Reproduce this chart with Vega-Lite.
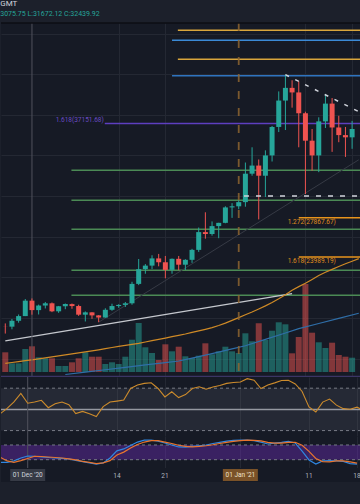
{
"$schema": "https://vega.github.io/schema/vega-lite/v6.json",
"background": "#1c202b",
"padding": {"left": 0, "top": 0, "right": 0, "bottom": 22},
"spacing": 0,
"bounds": "flush",
"title": {"text": "GMT", "subtitle": "3075.75 L:31672.12 C:32439.92", "anchor": "start", "frame": "bounds", "font": "Roboto", "fontSize": 8, "fontWeight": "normal", "color": "#d1d4dc", "subtitleFont": "Roboto", "subtitleFontSize": 7, "subtitleColor": "#26a69a", "subtitlePadding": 2, "offset": 5},
"config": {"view": {"stroke": null, "fill": "#161a25"}, "font": "Roboto"},
"datasets": {
"candles": [
{"date":"2020-11-27","o":17150,"h":17460,"l":16460,"c":17140,"v":19700},
{"date":"2020-11-28","o":17140,"h":17900,"l":16880,"c":17720,"v":8700},
{"date":"2020-11-29","o":17720,"h":18340,"l":17530,"c":18180,"v":8700},
{"date":"2020-11-30","o":18180,"h":19860,"l":18180,"c":19700,"v":23000},
{"date":"2020-12-01","o":19700,"h":19920,"l":18320,"c":18770,"v":25700},
{"date":"2020-12-02","o":18770,"h":19310,"l":18340,"c":19220,"v":14700},
{"date":"2020-12-03","o":19220,"h":19570,"l":18930,"c":19440,"v":13700},
{"date":"2020-12-04","o":19440,"h":19520,"l":18570,"c":18650,"v":13700},
{"date":"2020-12-05","o":18650,"h":19180,"l":18500,"c":19150,"v":6000},
{"date":"2020-12-06","o":19150,"h":19420,"l":18860,"c":19360,"v":6000},
{"date":"2020-12-07","o":19360,"h":19420,"l":18900,"c":19170,"v":9700},
{"date":"2020-12-08","o":19170,"h":19300,"l":18200,"c":18320,"v":13700},
{"date":"2020-12-09","o":18320,"h":18640,"l":17650,"c":18550,"v":19700},
{"date":"2020-12-10","o":18550,"h":18560,"l":17910,"c":18250,"v":15300},
{"date":"2020-12-11","o":18250,"h":18280,"l":17580,"c":18040,"v":15300},
{"date":"2020-12-12","o":18040,"h":18950,"l":18020,"c":18800,"v":8000},
{"date":"2020-12-13","o":18800,"h":19400,"l":18700,"c":19170,"v":9700},
{"date":"2020-12-14","o":19170,"h":19350,"l":19000,"c":19280,"v":8000},
{"date":"2020-12-15","o":19280,"h":19570,"l":19080,"c":19440,"v":15300},
{"date":"2020-12-16","o":19440,"h":21560,"l":19300,"c":21350,"v":32300},
{"date":"2020-12-17","o":21350,"h":23800,"l":21230,"c":22800,"v":49000},
{"date":"2020-12-18","o":22800,"h":23300,"l":22350,"c":23150,"v":24700},
{"date":"2020-12-19","o":23150,"h":24170,"l":22800,"c":23860,"v":19000},
{"date":"2020-12-20","o":23860,"h":24300,"l":23080,"c":23480,"v":12000},
{"date":"2020-12-21","o":23480,"h":24100,"l":21900,"c":22730,"v":27700},
{"date":"2020-12-22","o":22730,"h":23850,"l":22350,"c":23820,"v":20700},
{"date":"2020-12-23","o":23820,"h":24100,"l":22700,"c":23240,"v":25300},
{"date":"2020-12-24","o":23240,"h":23780,"l":22720,"c":23720,"v":15700},
{"date":"2020-12-25","o":23720,"h":24800,"l":23420,"c":24700,"v":14000},
{"date":"2020-12-26","o":24700,"h":26900,"l":24500,"c":26450,"v":16300},
{"date":"2020-12-27","o":26450,"h":28400,"l":25800,"c":26260,"v":28700},
{"date":"2020-12-28","o":26260,"h":27500,"l":26100,"c":27040,"v":17700},
{"date":"2020-12-29","o":27040,"h":27370,"l":25850,"c":27360,"v":20700},
{"date":"2020-12-30","o":27360,"h":28990,"l":27320,"c":28880,"v":25300},
{"date":"2020-12-31","o":28880,"h":29300,"l":27850,"c":28990,"v":20700},
{"date":"2021-01-01","o":28990,"h":29600,"l":28700,"c":29400,"v":19000},
{"date":"2021-01-02","o":29400,"h":33300,"l":28950,"c":32200,"v":38700},
{"date":"2021-01-03","o":32200,"h":34800,"l":32000,"c":33000,"v":30700},
{"date":"2021-01-04","o":33000,"h":33600,"l":27700,"c":32000,"v":48700},
{"date":"2021-01-05","o":32000,"h":34500,"l":29900,"c":34000,"v":32000},
{"date":"2021-01-06","o":34000,"h":36900,"l":33400,"c":36800,"v":41300},
{"date":"2021-01-07","o":36800,"h":40300,"l":36300,"c":39400,"v":49700},
{"date":"2021-01-08","o":39400,"h":41950,"l":36500,"c":40650,"v":47700},
{"date":"2021-01-09","o":40650,"h":41400,"l":38700,"c":40200,"v":18700},
{"date":"2021-01-10","o":40200,"h":41300,"l":34800,"c":38150,"v":35000},
{"date":"2021-01-11","o":38150,"h":38300,"l":30200,"c":35450,"v":88000},
{"date":"2021-01-12","o":35450,"h":36600,"l":32500,"c":34000,"v":39300},
{"date":"2021-01-13","o":34000,"h":37750,"l":32350,"c":37350,"v":29700},
{"date":"2021-01-14","o":37350,"h":40050,"l":36700,"c":39100,"v":24000},
{"date":"2021-01-15","o":39100,"h":39650,"l":34350,"c":36750,"v":29300},
{"date":"2021-01-16","o":36750,"h":37900,"l":35300,"c":36000,"v":17000},
{"date":"2021-01-17","o":36000,"h":36800,"l":33850,"c":35780,"v":15300},
{"date":"2021-01-18","o":35780,"h":37400,"l":34650,"c":36600,"v":14300}
],
"maOrange": [
{"date":"2020-11-27","price":13530},{"date":"2020-11-28","price":13610},{"date":"2020-11-29","price":13700},{"date":"2020-11-30","price":13790},
{"date":"2020-12-01","price":13870},{"date":"2020-12-02","price":13960},{"date":"2020-12-03","price":14060},{"date":"2020-12-04","price":14160},
{"date":"2020-12-05","price":14260},{"date":"2020-12-06","price":14360},{"date":"2020-12-07","price":14460},{"date":"2020-12-08","price":14560},
{"date":"2020-12-09","price":14660},{"date":"2020-12-10","price":14760},{"date":"2020-12-11","price":14860},{"date":"2020-12-12","price":14970},
{"date":"2020-12-13","price":15090},{"date":"2020-12-14","price":15200},{"date":"2020-12-15","price":15300},{"date":"2020-12-16","price":15400},
{"date":"2020-12-17","price":15500},{"date":"2020-12-18","price":15630},{"date":"2020-12-19","price":15760},{"date":"2020-12-20","price":15890},
{"date":"2020-12-21","price":16020},{"date":"2020-12-22","price":16160},{"date":"2020-12-23","price":16290},{"date":"2020-12-24","price":16420},
{"date":"2020-12-25","price":16570},{"date":"2020-12-26","price":16720},{"date":"2020-12-27","price":16880},{"date":"2020-12-28","price":17040},
{"date":"2020-12-29","price":17250},{"date":"2020-12-30","price":17490},{"date":"2020-12-31","price":17760},{"date":"2021-01-01","price":18030},
{"date":"2021-01-02","price":18310},{"date":"2021-01-03","price":18580},{"date":"2021-01-04","price":18880},{"date":"2021-01-05","price":19190},
{"date":"2021-01-06","price":19520},{"date":"2021-01-07","price":19880},{"date":"2021-01-08","price":20290},{"date":"2021-01-09","price":20730},
{"date":"2021-01-10","price":21080},{"date":"2021-01-11","price":21410},{"date":"2021-01-12","price":21790},{"date":"2021-01-13","price":22170},
{"date":"2021-01-14","price":22490},{"date":"2021-01-15","price":22780},{"date":"2021-01-16","price":23060},{"date":"2021-01-17","price":23330},
{"date":"2021-01-18","price":23580},{"date":"2021-01-19","price":23840}
],
"maBlue": [
{"date":"2020-12-06","price":12430},{"date":"2020-12-09","price":12670},{"date":"2020-12-12","price":12900},{"date":"2020-12-15","price":13130},
{"date":"2020-12-18","price":13370},{"date":"2020-12-21","price":13600},{"date":"2020-12-23","price":13760},{"date":"2020-12-25","price":14040},
{"date":"2020-12-28","price":14490},{"date":"2020-12-31","price":14950},{"date":"2021-01-02","price":15260},{"date":"2021-01-05","price":15890},
{"date":"2021-01-08","price":16520},{"date":"2021-01-10","price":16940},{"date":"2021-01-13","price":17450},{"date":"2021-01-16","price":17960},
{"date":"2021-01-19","price":18460}
],
"trend": [{"date":"2020-11-27","price":15740},{"date":"2021-01-09","price":20395}],
"diag": [{"date":"2020-12-11","price":17580},{"date":"2021-01-19","price":33570}],
"dashDiag": [{"date":"2021-01-08","price":41950},{"date":"2021-01-19","price":38310}],
"dashH": [{"start":"2021-01-01T19:00:00Z","price":30004}],
"cross": [{"date":"2020-12-01"}],
"marker": [{"date":"2021-01-01"}],
"levels": [
{"kind":"gold","start":"2020-12-22T21:00:00Z","price":46317},
{"kind":"blue","start":"2020-12-22T00:00:00Z","price":45333},
{"kind":"gold","start":"2020-12-22T21:00:00Z","price":43462},
{"kind":"blueThick","start":"2020-12-22T00:00:00Z","price":41847},
{"kind":"purple","start":"2020-12-11T22:00:00Z","price":37151.68},
{"kind":"green","start":"2020-12-06T22:00:00Z","price":32534},
{"kind":"green","start":"2020-12-06T22:00:00Z","price":29581},
{"kind":"green","start":"2020-12-06T22:00:00Z","price":26726},
{"kind":"green","start":"2020-12-06T22:00:00Z","price":22689},
{"kind":"green","start":"2020-12-06T22:00:00Z","price":20228},
{"kind":"fib","start":"2021-01-10T00:00:00Z","price":27867.67},
{"kind":"fib","start":"2021-01-10T00:00:00Z","price":23989.19}
],
"fibLabels": [
{"kind":"purple","start":"2020-12-11T22:00:00Z","price":37151.68,"label":"1.618(37151.68)"},
{"kind":"fib","start":"2021-01-10T00:00:00Z","price":27867.67,"label":"1.272(27867.67)"},
{"kind":"fib","start":"2021-01-10T00:00:00Z","price":23989.19,"label":"1.618(23989.19)"}
],
"rsi": [
{"date":"2020-11-27","rsi":45.9},{"date":"2020-11-28","rsi":51},{"date":"2020-11-29","rsi":57},{"date":"2020-11-30","rsi":65},
{"date":"2020-12-01","rsi":55.8},{"date":"2020-12-02","rsi":57},{"date":"2020-12-03","rsi":58.6},{"date":"2020-12-04","rsi":51.6},
{"date":"2020-12-05","rsi":55.4},{"date":"2020-12-06","rsi":57},{"date":"2020-12-07","rsi":54.5},{"date":"2020-12-08","rsi":46},
{"date":"2020-12-09","rsi":48.1},{"date":"2020-12-10","rsi":45.9},{"date":"2020-12-11","rsi":43.3},{"date":"2020-12-12","rsi":52.6},
{"date":"2020-12-13","rsi":56.9},{"date":"2020-12-14","rsi":57.8},{"date":"2020-12-15","rsi":58.8},{"date":"2020-12-16","rsi":69.7},
{"date":"2020-12-17","rsi":73},{"date":"2020-12-18","rsi":74.5},{"date":"2020-12-19","rsi":75.1},{"date":"2020-12-20","rsi":69.7},
{"date":"2020-12-21","rsi":61.8},{"date":"2020-12-22","rsi":66.6},{"date":"2020-12-23","rsi":61.1},{"date":"2020-12-24","rsi":64},
{"date":"2020-12-25","rsi":69.7},{"date":"2020-12-26","rsi":71.3},{"date":"2020-12-27","rsi":69},{"date":"2020-12-28","rsi":71.1},
{"date":"2020-12-29","rsi":72.6},{"date":"2020-12-30","rsi":74.5},{"date":"2020-12-31","rsi":75.4},{"date":"2021-01-01","rsi":75.9},
{"date":"2021-01-02","rsi":79},{"date":"2021-01-03","rsi":77.5},{"date":"2021-01-04","rsi":69.7},{"date":"2021-01-05","rsi":73},
{"date":"2021-01-06","rsi":75},{"date":"2021-01-07","rsi":77.3},{"date":"2021-01-08","rsi":77.5},{"date":"2021-01-09","rsi":74},
{"date":"2021-01-10","rsi":66.9},{"date":"2021-01-11","rsi":52.3},{"date":"2021-01-12","rsi":47.5},{"date":"2021-01-13","rsi":56.9},
{"date":"2021-01-14","rsi":59.7},{"date":"2021-01-15","rsi":54},{"date":"2021-01-16","rsi":50.7},{"date":"2021-01-17","rsi":50.2},
{"date":"2021-01-18","rsi":52.1},{"date":"2021-01-19","rsi":49}
],
"stoch": [
{"date":"2020-11-27","k":9,"d":30},{"date":"2020-11-28","k":9,"d":15},{"date":"2020-11-29","k":15,"d":9},{"date":"2020-11-30","k":27,"d":16},
{"date":"2020-12-01","k":35,"d":25},{"date":"2020-12-02","k":34,"d":34},{"date":"2020-12-03","k":31,"d":33},{"date":"2020-12-04","k":29,"d":31},
{"date":"2020-12-05","k":27,"d":29},{"date":"2020-12-06","k":25,"d":27},{"date":"2020-12-07","k":23,"d":23},{"date":"2020-12-08","k":17,"d":19},
{"date":"2020-12-09","k":12,"d":13},{"date":"2020-12-10","k":7,"d":9},{"date":"2020-12-11","k":2,"d":4},{"date":"2020-12-12","k":7,"d":7},
{"date":"2020-12-13","k":27,"d":16},{"date":"2020-12-14","k":56,"d":39},{"date":"2020-12-15","k":64,"d":51},{"date":"2020-12-16","k":78,"d":68},
{"date":"2020-12-17","k":92,"d":82},{"date":"2020-12-18","k":100,"d":92},{"date":"2020-12-19","k":100,"d":98},{"date":"2020-12-20","k":96,"d":98},
{"date":"2020-12-21","k":88,"d":92},{"date":"2020-12-22","k":80,"d":86},{"date":"2020-12-23","k":72,"d":79},{"date":"2020-12-24","k":71,"d":74},
{"date":"2020-12-25","k":74,"d":72},{"date":"2020-12-26","k":77,"d":74},{"date":"2020-12-27","k":80,"d":77},{"date":"2020-12-28","k":86,"d":81},
{"date":"2020-12-29","k":91,"d":86},{"date":"2020-12-30","k":96,"d":91},{"date":"2020-12-31","k":99,"d":95},{"date":"2021-01-01","k":100,"d":98},
{"date":"2021-01-02","k":100,"d":100},{"date":"2021-01-03","k":98,"d":99},{"date":"2021-01-04","k":92,"d":97},{"date":"2021-01-05","k":84,"d":91},
{"date":"2021-01-06","k":88,"d":88},{"date":"2021-01-07","k":91,"d":88},{"date":"2021-01-08","k":95,"d":91},{"date":"2021-01-09","k":88,"d":91},
{"date":"2021-01-10","k":55,"d":79},{"date":"2021-01-11","k":19,"d":54},{"date":"2021-01-12","k":2,"d":25},{"date":"2021-01-13","k":15,"d":12},
{"date":"2021-01-14","k":16,"d":11},{"date":"2021-01-15","k":15,"d":15},{"date":"2021-01-16","k":13,"d":15},{"date":"2021-01-17","k":4,"d":11},
{"date":"2021-01-18","k":2,"d":6}
],
"ticks": [{"date":"2020-12-14","label":"14"},{"date":"2020-12-21","label":"21"},{"date":"2021-01-11","label":"11"},{"date":"2021-01-18","label":"18"}],
"boxes": [{"date":"2020-12-01","label":"01 Dec '20","kind":"cross"},{"date":"2021-01-01","label":"01 Jan '21","kind":"mark"}]
},
"vconcat": [
{
"width": 360, "height": 354,
"layer": [
{
"data": {"name": "candles"},
"mark": {"type": "bar", "width": 6, "opacity": 0.5, "clip": true},
"encoding": {
"x": {"field": "date", "type": "temporal", "scale": {"type": "utc", "nice": false, "domain": [{"year":2020,"month":11,"date":27,"hours":2,"minutes":35,"utc":true},{"year":2021,"month":1,"date":18,"hours":14,"utc":true}]},
"axis": {"values": [{"year":2020,"month":12,"date":14,"utc":true},{"year":2020,"month":12,"date":21,"utc":true},{"year":2021,"month":1,"date":11,"utc":true},{"year":2021,"month":1,"date":18,"utc":true}], "grid": true, "gridColor": "#242833", "labels": false, "ticks": false, "domain": false, "title": null}},
"y": {"field": "v", "type": "quantitative", "scale": {"domain": [-5000, 349000], "nice": false, "zero": false}, "axis": null},
"color": {"condition": {"test": "datum.c >= datum.o", "value": "#26a69a"}, "value": "#ef5350"}
}
},
{
"layer": [
{
"data": {"name": "levels"},
"mark": {"type": "rule", "clip": true},
"encoding": {
"x": {"field": "start", "type": "temporal"},
"x2": {"datum": {"year":2021,"month":1,"date":25,"utc":true}},
"y": {"field": "price", "type": "quantitative", "scale": {"domain": [12184, 47036], "nice": false, "zero": false},
"axis": {"values": [14000,16000,18000,20000,22000,24000,26000,28000,30000,32000,34000,36000,38000,40000,42000,44000,46000], "grid": true, "gridColor": "#242833", "labels": false, "ticks": false, "domain": false, "title": null}},
"color": {"field": "kind", "type": "nominal", "scale": {"domain": ["gold","blue","blueThick","purple","green","fib"], "range": ["#d9a63c","#3b8ad6","#2f74bf","#5e3fc0","#4b8a55","#e8941c"]}, "legend": null},
"strokeWidth": {"field": "kind", "type": "ordinal", "scale": {"domain": ["gold","blue","blueThick","purple","green","fib"], "range": [1.5,1.5,2.5,1.2,1.2,1.5]}, "legend": null}
}
},
{
"data": {"name": "trend"},
"mark": {"type": "line", "color": "#c5c8ce", "strokeWidth": 1.3, "clip": true},
"encoding": {"x": {"field": "date", "type": "temporal"}, "y": {"field": "price", "type": "quantitative"}}
},
{
"data": {"name": "diag"},
"mark": {"type": "line", "color": "#363a45", "strokeWidth": 1, "clip": true},
"encoding": {"x": {"field": "date", "type": "temporal"}, "y": {"field": "price", "type": "quantitative"}}
},
{
"data": {"name": "maOrange"},
"mark": {"type": "line", "color": "#cf8a26", "strokeWidth": 1.2, "clip": true},
"encoding": {"x": {"field": "date", "type": "temporal"}, "y": {"field": "price", "type": "quantitative"}}
},
{
"data": {"name": "maBlue"},
"mark": {"type": "line", "color": "#2f6ea8", "strokeWidth": 1.2, "clip": true},
"encoding": {"x": {"field": "date", "type": "temporal"}, "y": {"field": "price", "type": "quantitative"}}
},
{
"data": {"name": "cross"},
"mark": {"type": "rule", "color": "#4f525c", "strokeWidth": 1},
"encoding": {"x": {"field": "date", "type": "temporal"}}
},
{
"data": {"name": "marker"},
"mark": {"type": "rule", "color": "#8d6530", "strokeWidth": 1.8, "strokeDash": [8, 9], "opacity": 0.85},
"encoding": {"x": {"field": "date", "type": "temporal"}}
},
{
"data": {"name": "candles"},
"mark": {"type": "rule", "strokeWidth": 1, "clip": true},
"encoding": {
"x": {"field": "date", "type": "temporal"},
"y": {"field": "l", "type": "quantitative"},
"y2": {"field": "h"},
"color": {"condition": {"test": "datum.c >= datum.o", "value": "#26a69a"}, "value": "#ef5350"}
}
},
{
"data": {"name": "candles"},
"mark": {"type": "bar", "width": 5, "clip": true},
"encoding": {
"x": {"field": "date", "type": "temporal"},
"y": {"field": "o", "type": "quantitative"},
"y2": {"field": "c"},
"color": {"condition": {"test": "datum.c >= datum.o", "value": "#26a69a"}, "value": "#ef5350"}
}
},
{
"data": {"name": "dashH"},
"mark": {"type": "rule", "color": "#d1d4dc", "strokeWidth": 1.5, "strokeDash": [5, 7], "clip": true},
"encoding": {
"x": {"field": "start", "type": "temporal"},
"x2": {"datum": {"year":2021,"month":1,"date":25,"utc":true}},
"y": {"field": "price", "type": "quantitative"}
}
},
{
"data": {"name": "dashDiag"},
"mark": {"type": "line", "color": "#d1d4dc", "strokeWidth": 1.5, "strokeDash": [4, 7], "clip": true},
"encoding": {"x": {"field": "date", "type": "temporal"}, "y": {"field": "price", "type": "quantitative"}}
},
{
"data": {"name": "fibLabels"},
"transform": [{"filter": "datum.kind === 'purple'"}],
"mark": {"type": "text", "align": "right", "baseline": "middle", "dx": -1, "dy": -3.5, "fontSize": 6.5, "font": "Roboto", "color": "#6a4bc4", "clip": true},
"encoding": {"x": {"field": "start", "type": "temporal"}, "y": {"field": "price", "type": "quantitative"}, "text": {"field": "label"}}
},
{
"data": {"name": "fibLabels"},
"transform": [{"filter": "datum.kind === 'fib'"}],
"mark": {"type": "text", "align": "left", "baseline": "middle", "dx": -11, "dy": 4, "fontSize": 6.5, "font": "Roboto", "color": "#e0901e", "clip": true},
"encoding": {"x": {"field": "start", "type": "temporal"}, "y": {"field": "price", "type": "quantitative"}, "text": {"field": "label"}}
},
{
"data": {"values": [{}]},
"mark": {"type": "rule", "color": "#3b3565", "strokeWidth": 1.2},
"encoding": {"y": {"datum": 12250, "type": "quantitative"}}
},
{
"data": {"values": [{}]},
"mark": {"type": "rule", "color": "#0c0e14", "strokeWidth": 1.5},
"encoding": {"y": {"datum": 47036, "type": "quantitative"}}
}
]
}
],
"resolve": {"scale": {"y": "independent"}}
},
{
"width": 360, "height": 59,
"layer": [
{
"data": {"values": [{}]},
"mark": {"type": "rect", "color": "#787b86", "opacity": 0.16},
"encoding": {"y": {"datum": 70, "type": "quantitative", "scale": {"domain": [24.9, 80.55], "nice": false, "zero": false}, "axis": null}, "y2": {"datum": 30}}
},
{
"data": {"values": [{}]},
"mark": {"type": "rule", "color": "#787b86", "strokeDash": [3, 3]},
"encoding": {"y": {"datum": 70, "type": "quantitative"}}
},
{
"data": {"values": [{}]},
"mark": {"type": "rule", "color": "#787b86", "strokeDash": [3, 3]},
"encoding": {"y": {"datum": 30, "type": "quantitative"}}
},
{
"data": {"values": [{}]},
"mark": {"type": "rule", "color": "#9598a1", "strokeWidth": 1.5},
"encoding": {"y": {"datum": 50, "type": "quantitative"}}
},
{
"data": {"name": "cross"},
"mark": {"type": "rule", "color": "#4f525c", "strokeWidth": 1},
"encoding": {"x": {"field": "date", "type": "temporal"}}
},
{
"data": {"name": "rsi"},
"mark": {"type": "line", "color": "#cc8b2c", "strokeWidth": 1.1, "clip": true},
"encoding": {
"x": {"field": "date", "type": "temporal", "scale": {"type": "utc", "nice": false, "domain": [{"year":2020,"month":11,"date":27,"hours":2,"minutes":35,"utc":true},{"year":2021,"month":1,"date":18,"hours":14,"utc":true}]},
"axis": {"values": [{"year":2020,"month":12,"date":14,"utc":true},{"year":2020,"month":12,"date":21,"utc":true},{"year":2021,"month":1,"date":1,"utc":true},{"year":2021,"month":1,"date":11,"utc":true},{"year":2021,"month":1,"date":18,"utc":true}], "grid": true, "gridColor": "#242833", "labels": false, "ticks": false, "domain": false, "title": null}},
"y": {"field": "rsi", "type": "quantitative"}
}
}
]
},
{
"width": 360, "height": 32,
"layer": [
{
"data": {"values": [{}]},
"mark": {"type": "rect", "color": "#7a2fd0", "opacity": 0.36},
"encoding": {"y": {"datum": 80, "type": "quantitative", "scale": {"domain": [-13.9, 116.7], "nice": false, "zero": false}, "axis": null}, "y2": {"datum": 20}}
},
{
"data": {"values": [{}]},
"mark": {"type": "rule", "color": "#787b86", "strokeDash": [3, 3]},
"encoding": {"y": {"datum": 80, "type": "quantitative"}}
},
{
"data": {"values": [{}]},
"mark": {"type": "rule", "color": "#787b86", "strokeDash": [3, 3]},
"encoding": {"y": {"datum": 20, "type": "quantitative"}}
},
{
"data": {"name": "cross"},
"mark": {"type": "rule", "color": "#4f525c", "strokeWidth": 1},
"encoding": {"x": {"field": "date", "type": "temporal"}}
},
{
"data": {"name": "stoch"},
"mark": {"type": "line", "color": "#2f86e0", "strokeWidth": 1.2, "clip": true},
"encoding": {
"x": {"field": "date", "type": "temporal", "scale": {"type": "utc", "nice": false, "domain": [{"year":2020,"month":11,"date":27,"hours":2,"minutes":35,"utc":true},{"year":2021,"month":1,"date":18,"hours":14,"utc":true}]},
"axis": {"values": [{"year":2020,"month":12,"date":14,"utc":true},{"year":2020,"month":12,"date":21,"utc":true},{"year":2021,"month":1,"date":1,"utc":true},{"year":2021,"month":1,"date":11,"utc":true},{"year":2021,"month":1,"date":18,"utc":true}], "grid": true, "gridColor": "#242833", "labels": false, "ticks": false, "domain": false, "title": null}},
"y": {"field": "k", "type": "quantitative"}
}
},
{
"data": {"name": "stoch"},
"mark": {"type": "line", "color": "#e8742e", "strokeWidth": 1.2, "clip": true},
"encoding": {"x": {"field": "date", "type": "temporal"}, "y": {"field": "d", "type": "quantitative"}}
}
]
},
{
"width": 360, "height": 14,
"layer": [
{
"data": {"name": "ticks"},
"mark": {"type": "text", "color": "#b2b5be", "fontSize": 6.5, "font": "Roboto", "baseline": "middle", "dy": 1},
"encoding": {
"x": {"field": "date", "type": "temporal", "scale": {"type": "utc", "nice": false, "domain": [{"year":2020,"month":11,"date":27,"hours":2,"minutes":35,"utc":true},{"year":2021,"month":1,"date":18,"hours":14,"utc":true}]}, "axis": null},
"y": {"datum": 0.5, "type": "quantitative", "scale": {"domain": [0, 1], "nice": false, "zero": false}, "axis": null},
"text": {"field": "label"}
}
},
{
"data": {"name": "boxes"},
"mark": {"type": "point", "shape": "M-1,-0.34L1,-0.34L1,0.34L-1,0.34Z", "size": 1225, "filled": true, "opacity": 1},
"encoding": {
"x": {"field": "date", "type": "temporal"},
"y": {"datum": 0.5, "type": "quantitative"},
"color": {"field": "kind", "type": "nominal", "scale": {"domain": ["cross","mark"], "range": ["#363a45","#7a5228"]}, "legend": null}
}
},
{
"data": {"name": "boxes"},
"mark": {"type": "text", "fontSize": 6.5, "font": "Roboto", "baseline": "middle"},
"encoding": {
"x": {"field": "date", "type": "temporal"},
"y": {"datum": 0.5, "type": "quantitative"},
"text": {"field": "label"},
"color": {"field": "kind", "type": "nominal", "scale": {"domain": ["cross","mark"], "range": ["#d1d4dc","#f0e2cc"]}, "legend": null}
}
}
],
"resolve": {"scale": {"color": "independent"}}
}
]
}
